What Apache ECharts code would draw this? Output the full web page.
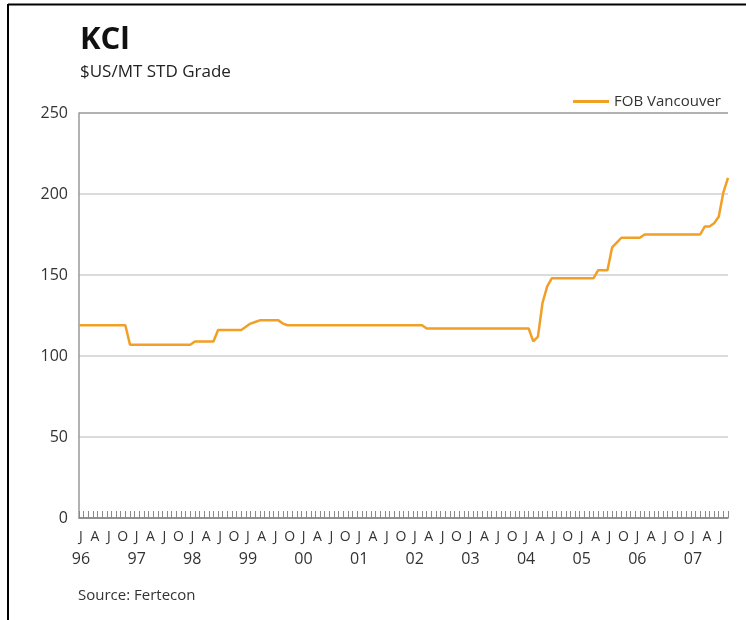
<!DOCTYPE html>
<html>
<head>
<meta charset="utf-8">
<script src="https://cdn.jsdelivr.net/npm/echarts@6/dist/echarts.min.js"></script>
<style>
  html, body { margin: 0; padding: 0; background: #fff; }
  #kcl-chart { width: 746px; height: 620px; }
</style>
</head>
<body>
<div id="kcl-chart"></div>
<script>
  // months Jan 96 .. Sep 07
  var monthLetters = ['J', 'F', 'M', 'A', 'M', 'J', 'J', 'A', 'S', 'O', 'N', 'D'];
  var startYear = 1996;
  var monthCount = 141;

  var fobVancouver = [
    119, 119, 119, 119, 119, 119, 119, 119, 119, 119, 119, 107,   // 96
    107, 107, 107, 107, 107, 107, 107, 107, 107, 107, 107, 107,   // 97
    107, 109, 109, 109, 109, 109, 116, 116, 116, 116, 116, 116,   // 98
    118, 120, 121, 122, 122, 122, 122, 122, 120, 119, 119, 119,   // 99
    119, 119, 119, 119, 119, 119, 119, 119, 119, 119, 119, 119,   // 00
    119, 119, 119, 119, 119, 119, 119, 119, 119, 119, 119, 119,   // 01
    119, 119, 119, 117, 117, 117, 117, 117, 117, 117, 117, 117,   // 02
    117, 117, 117, 117, 117, 117, 117, 117, 117, 117, 117, 117,   // 03
    117, 117, 109, 112, 133, 143, 148, 148, 148, 148, 148, 148,   // 04
    148, 148, 148, 148, 153, 153, 153, 167, 170, 173, 173, 173,   // 05
    173, 173, 175, 175, 175, 175, 175, 175, 175, 175, 175, 175,   // 06
    175, 175, 175, 180, 180, 182, 186, 201, 210                   // 07
  ];

  var yTicks = [0, 50, 100, 150, 200, 250];

  var months = [];
  for (var i = 0; i < monthCount; i++) {
    var y = startYear + Math.floor(i / 12);
    months.push(String(y).slice(2) + '-' + (i % 12 + 1));
  }

  var myChart = echarts.init(document.getElementById('kcl-chart'));
  var font = '"Open Sans", "Noto Sans", sans-serif';

  var option = {
    backgroundColor: '#fff',
    animation: false,
    textStyle: { fontFamily: font },
    title: {
      text: 'KCl',
      subtext: '$US/MT STD Grade',
      left: 75,
      top: 20,
      itemGap: 8,
      textStyle: { fontSize: 31, fontWeight: 'bold', color: '#111', fontFamily: font },
      subtextStyle: { fontSize: 17, color: '#222', fontFamily: font }
    },
    legend: {
      right: 20,
      top: 89,
      icon: 'rect',
      itemWidth: 36,
      itemHeight: 3,
      itemGap: 9,
      textStyle: { fontSize: 15, color: '#333', fontFamily: font },
      data: ['FOB Vancouver']
    },
    grid: {
      left: 79,
      right: 18,
      top: 113,
      bottom: 102,
      containLabel: false
    },
    xAxis: {
      type: 'category',
      boundaryGap: false,
      data: months,
      axisLine: { lineStyle: { color: '#8a8a8a', width: 1.5 } },
      axisTick: {
        show: true,
        inside: true,
        length: 7,
        interval: 0,
        lineStyle: { color: '#8a8a8a', width: 1 }
      },
      axisLabel: {
        interval: function (idx) { return idx % 3 === 0; },
        margin: 9,
        padding: [0, 0, 0, 4],
        formatter: function (val, idx) {
          var m = idx % 12;
          var letter = '{m|' + monthLetters[m] + '}';
          if (m === 0) {
            return letter + '\n{y|' + val.split('-')[0] + '}';
          }
          return letter;
        },
        rich: {
          m: { fontSize: 14, lineHeight: 20, color: '#333', fontFamily: font },
          y: { fontSize: 16, lineHeight: 24, color: '#333', fontFamily: font }
        }
      },
      splitLine: { show: false }
    },
    yAxis: {
      type: 'value',
      min: yTicks[0],
      max: yTicks[yTicks.length - 1],
      interval: 50,
      axisLine: { show: true, lineStyle: { color: '#999', width: 1.5 } },
      axisTick: { show: false },
      axisLabel: { fontSize: 16, color: '#333', margin: 11, fontFamily: font },
      splitLine: {
        lineStyle: {
          color: ['#888', '#cfcfcf', '#cfcfcf', '#cfcfcf', '#cfcfcf', '#999'],
          width: 1.5
        }
      }
    },
    series: [{
      name: 'FOB Vancouver',
      type: 'line',
      data: fobVancouver,
      symbol: 'none',
      lineStyle: { color: '#F29F26', width: 2.5 },
      itemStyle: { color: '#F29F26' }
    }],
    graphic: [
      {
        type: 'line',
        shape: { x1: 8, y1: 4.5, x2: 746, y2: 4.5 },
        style: { stroke: '#000', lineWidth: 2 }
      },
      {
        type: 'line',
        shape: { x1: 8, y1: 4, x2: 8, y2: 620 },
        style: { stroke: '#000', lineWidth: 2 }
      },
      {
        type: 'text',
        left: 78,
        top: 588,
        style: { text: 'Source: Fertecon', fontSize: 15, fill: '#333', fontFamily: font }
      }
    ]
  };

  myChart.setOption(option);
</script>
</body>
</html>
